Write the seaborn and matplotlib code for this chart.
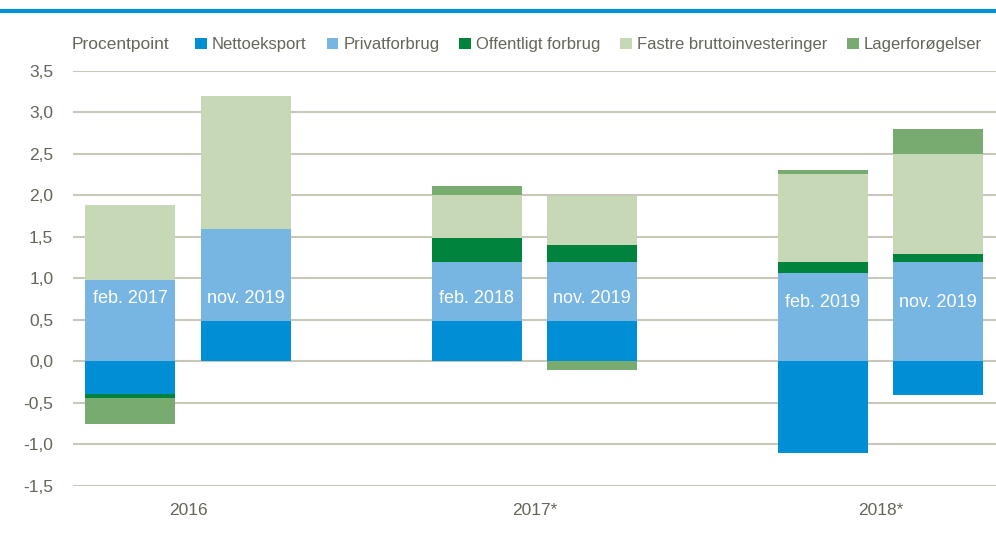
import matplotlib.pyplot as plt
import numpy as np
import seaborn as sns
from matplotlib.lines import Line2D
from matplotlib.patches import Patch
from matplotlib.ticker import FuncFormatter

# bar positions (two bars per year group) and texts
positions = [0, 1, 3, 4, 6, 7]
bar_labels = ['feb. 2017', 'nov. 2019', 'feb. 2018', 'nov. 2019', 'feb. 2019', 'nov. 2019']
years = ['2016', '2017*', '2018*']

# contributions in procentpoint
nettoeksport = [-0.39, 0.49, 0.49, 0.49, -1.10, -0.40]
privatforbrug = [0.98, 1.11, 0.71, 0.71, 1.07, 1.20]
offentligt = [-0.05, 0.00, 0.29, 0.20, 0.13, 0.10]
fastre = [0.91, 1.60, 0.51, 0.59, 1.06, 1.20]
lager = [-0.31, 0.00, 0.11, -0.10, 0.05, 0.30]

series = ['Nettoeksport', 'Privatforbrug', 'Offentligt forbrug',
          'Fastre bruttoinvesteringer', 'Lagerforøgelser']
values = [nettoeksport, privatforbrug, offentligt, fastre, lager]
colors = ['#008FD5', '#77B5E3', '#00843D', '#C6D8B5', '#77AB6F']

sns.set_style('white')
plt.rcParams['font.family'] = ['Liberation Sans', 'DejaVu Sans']
text_color = '#65655A'

fig = plt.figure(figsize=(9.96, 5.41), dpi=100)
ax = fig.add_axes([0.073, 0.1017, 0.927, 0.7671])

pos_base = np.zeros(len(positions))
neg_base = np.zeros(len(positions))
for name, vals, col in zip(series, values, colors):
    v = np.array(vals)
    bottom = np.where(v >= 0, pos_base, neg_base)
    sns.barplot(x=positions, y=v, bottom=bottom, native_scale=True, color=col,
                saturation=1, width=0.78, linewidth=0, errorbar=None, ax=ax)
    pos_base = pos_base + np.where(v >= 0, v, 0)
    neg_base = neg_base + np.where(v < 0, v, 0)

# white period labels inside the bars
label_y = [0.76, 0.76, 0.76, 0.76, 0.71, 0.71]
for x, y, lab in zip(positions, label_y, bar_labels):
    ax.text(x, y, lab, color='white', ha='center', va='center', fontsize=13)

ax.set_xlim(-0.5, 7.5)
ax.set_ylim(-1.5, 3.5)
ax.set_yticks(np.arange(-1.5, 3.51, 0.5))
ax.yaxis.set_major_formatter(FuncFormatter(lambda v, p: f'{v:.1f}'.replace('.', ',')))
ax.set_xticks([0.5, 3.5, 6.5])
ax.set_xticklabels(years)
ax.tick_params(axis='both', length=0, labelsize=12.5, colors=text_color)
ax.tick_params(axis='y', pad=14)
ax.tick_params(axis='x', pad=12)
ax.set_xlabel('')
ax.set_ylabel('')
ax.yaxis.grid(True, color='#C9C7BA', linewidth=1.5)
ax.xaxis.grid(False)
ax.set_axisbelow(True)
for s in ax.spines.values():
    s.set_visible(False)

handles = [Patch(facecolor=c, edgecolor='none') for c in colors]
fig.legend(handles, series, ncol=5, loc='center left', bbox_to_anchor=(0.196, 0.917),
           frameon=False, fontsize=12, labelcolor=text_color, handlelength=0.7,
           handleheight=0.7, handletextpad=0.3, columnspacing=1.2, borderpad=0,
           borderaxespad=0)
fig.text(0.072, 0.917, 'Procentpoint', color=text_color, fontsize=12.5, va='center')

fig.add_artist(Line2D([0, 1], [0.979, 0.979], transform=fig.transFigure,
                      color='#0090D4', linewidth=3))

fig.savefig('out.png', dpi=100)
